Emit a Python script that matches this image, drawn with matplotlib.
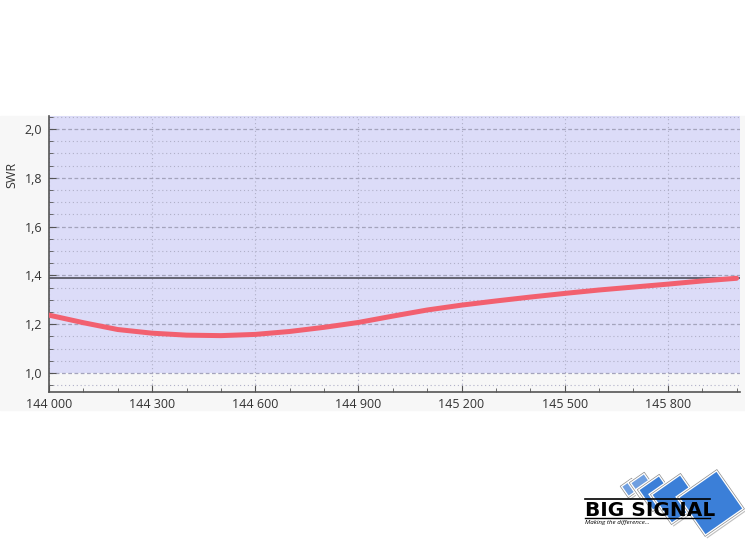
import numpy as np
import matplotlib.pyplot as plt
from matplotlib.patches import Rectangle, Polygon
from matplotlib.ticker import MultipleLocator, FuncFormatter

plt.rcParams['font.family'] = ['Open Sans', 'DejaVu Sans']

# measured SWR vs frequency (kHz)
freq = [144000, 144100, 144200, 144300, 144400, 144500, 144600, 144700,
        144800, 144900, 145000, 145100, 145200, 145300, 145400, 145500,
        145600, 145700, 145800, 145900, 146000]
swr = [1.237, 1.206, 1.178, 1.163, 1.155, 1.153, 1.158, 1.170,
       1.187, 1.207, 1.233, 1.258, 1.278, 1.295, 1.311, 1.326,
       1.340, 1.352, 1.364, 1.377, 1.388]
swr_limit = 1.39
good_band = (1.0, 2.1)

fig = plt.figure(figsize=(7.45, 5.48), dpi=100)
bg = Rectangle((0, 1 - 410 / 548), 1, (410 - 116) / 548,
               transform=fig.transFigure, color='#f7f7f7', zorder=-5)
fig.patches.append(bg)

ax = fig.add_axes([49 / 745, 1 - 392 / 548, 691 / 745, 276 / 548])
ax.set_facecolor('#f7f7f7')
ax.axhspan(*good_band, color='#dcdcf8', zorder=0, lw=0)

ax.set_xlim(144000, 146010)
ax.set_ylim(0.922, 2.053)
ax.xaxis.set_major_locator(MultipleLocator(300))
ax.xaxis.set_minor_locator(MultipleLocator(100))
ax.yaxis.set_major_locator(MultipleLocator(0.2))
ax.yaxis.set_minor_locator(MultipleLocator(0.05))
ax.xaxis.set_major_formatter(FuncFormatter(lambda v, p: f'{int(round(v)):,}'.replace(',', ' ')))
ax.yaxis.set_major_formatter(FuncFormatter(lambda v, p: f'{v:.1f}'.replace('.', ',')))

ax.grid(axis='y', which='major', ls=(0, (3, 2)), color='#a4a4bc', lw=0.9)
ax.grid(axis='y', which='minor', ls=(0, (1, 2.5)), color='#b0b0c8', lw=0.8)
ax.grid(axis='x', which='major', ls=(0, (1, 2.5)), color='#b0b0c8', lw=0.8)

ax.plot(freq, swr, color='#f2606f', lw=3.6, solid_capstyle='round', zorder=3)
ax.axhline(swr_limit, color='#5a5a66', lw=1.3, zorder=2)

for s in ['top', 'right']:
    ax.spines[s].set_visible(False)
for s in ['left', 'bottom']:
    ax.spines[s].set_color('#555555')
    ax.spines[s].set_linewidth(1.2)
ax.tick_params(which='major', direction='in', length=5, color='#555555',
               labelsize=9, labelcolor='#333333', pad=5)
ax.tick_params(which='minor', direction='in', length=3, color='#555555')
ax.tick_params(axis='x', pad=4)

fig.text(12 / 745, 1 - 175 / 548, 'SWR', rotation=90, ha='center', va='center',
         fontsize=9, color='#333333')

# logo (pixel coords inside the logo box)
lg = fig.add_axes([580 / 745, 0, 165 / 745, 88 / 548])
lg.set_xlim(0, 165)
lg.set_ylim(88, 0)
lg.axis('off')
for cx, cy, r, solid in [(50, 28, 10, False), (62, 25, 13, False), (76, 33, 19, True),
                         (96, 39, 26, True), (131, 43, 34, True)]:
    a0 = np.deg2rad(10)
    pts = [(cx + r * np.sin(a0 + k * np.pi / 2), cy - r * np.cos(a0 + k * np.pi / 2))
           for k in range(4)]
    lg.add_patch(Polygon([(x + 2, y + 2) for x, y in pts], closed=True,
                         fc='#8a8a8a', ec='none', alpha=0.55))
    lg.add_patch(Polygon(pts, closed=True, fc='#3b7fd8' if solid else '#6f9fe0',
                         ec='white', lw=2.4))
    lg.add_patch(Polygon(pts, closed=True, fc='none', ec='#8a8a8a', lw=0.5))
lg.plot([5, 130], [39, 39], color='black', lw=1.2)
lg.text(5, 56, 'BIG SIGNAL', fontsize=14.5, fontweight='bold', color='black',
        family=['DejaVu Sans'], va='baseline', ha='left')
lg.plot([5, 130], [58, 58], color='black', lw=1.0)
lg.text(5, 64, 'Making the difference...', fontsize=4.5, style='italic',
        color='black', va='baseline', ha='left')

fig.savefig('out.png', dpi=100)
